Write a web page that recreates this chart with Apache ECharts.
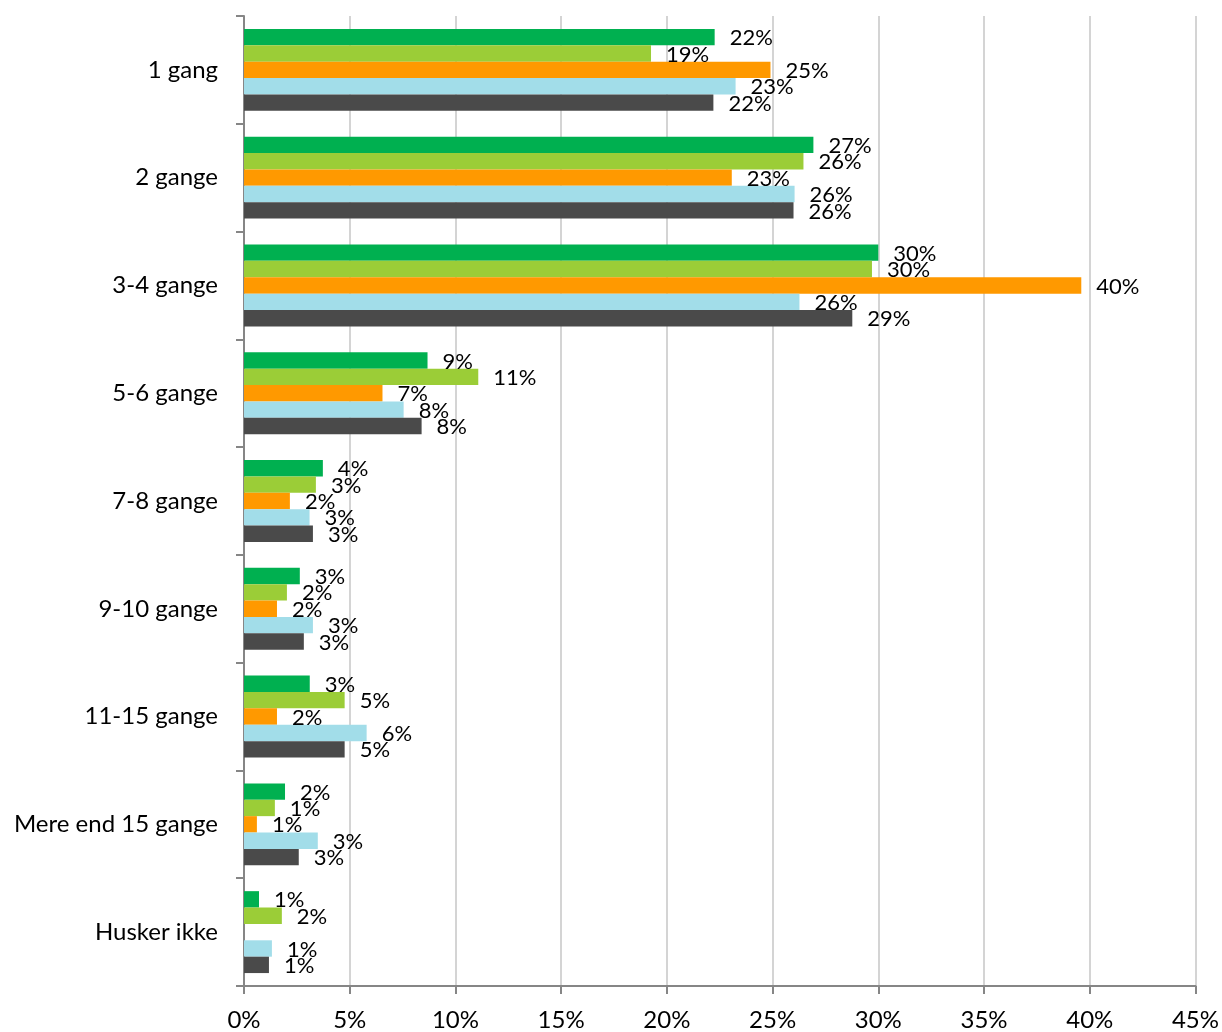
<!DOCTYPE html>
<html>
<head>
<meta charset="utf-8">
<script src="https://cdn.jsdelivr.net/npm/echarts@6/dist/echarts.min.js"></script>
<style>
  html, body { margin: 0; padding: 0; background: #fff; }
  #main { width: 1222px; height: 1032px; }
</style>
</head>
<body>
<div id="main"></div>
<script>
// kategorier (øverst til nederst)
const categories = ['1 gang', '2 gange', '3-4 gange', '5-6 gange', '7-8 gange', '9-10 gange', '11-15 gange', 'Mere end 15 gange', 'Husker ikke'];
const xTicks = [0, 5, 10, 15, 20, 25, 30, 35, 40, 45];

// værdier i procent
const serieA = [22.26, 26.93, 30.0, 8.68, 3.73, 2.64, 3.11, 1.94, 0.71];
const serieB = [19.25, 26.46, 29.7, 11.08, 3.4, 2.03, 4.76, 1.46, 1.79];
const serieC = [24.9, 23.07, 39.6, 6.55, 2.17, 1.56, 1.56, 0.61, null];
const serieD = [23.25, 26.04, 26.27, 7.55, 3.1, 3.26, 5.8, 3.49, 1.32];
const serieE = [22.2, 25.99, 28.77, 8.4, 3.26, 2.83, 4.76, 2.59, 1.18];

const colors = ['#00b050', '#9bcd37', '#ff9900', '#a2dde9', '#4a4a4a'];
const font = 'Lato, "Open Sans", sans-serif';

const chart = echarts.init(document.getElementById('main'));

function mkSeries(name, data, color) {
  return {
    name: name,
    type: 'bar',
    data: data,
    barGap: '0%',
    barCategoryGap: '24%',
    itemStyle: { color: color },
    label: {
      show: true,
      position: 'right',
      distance: 15,
      offset: [0, 1],
      color: '#000',
      fontFamily: font,
      fontSize: 22,
      formatter: p => (p.value == null ? '' : Math.round(p.value) + '%')
    },
    animation: false
  };
}

chart.setOption({
  backgroundColor: '#fff',
  grid: { left: 244, right: 25, top: 16, bottom: 42 },
  xAxis: {
    type: 'value',
    min: xTicks[0],
    max: xTicks[xTicks.length - 1],
    interval: 5,
    axisLine: { show: true, lineStyle: { color: '#868686', width: 2 } },
    axisTick: { show: true, length: 8, lineStyle: { color: '#868686', width: 2 } },
    splitLine: { show: true, lineStyle: { color: '#d4d4d4', width: 2 } },
    axisLabel: {
      formatter: '{value}%',
      color: '#000',
      fontFamily: font,
      fontSize: 24,
      margin: 22
    }
  },
  yAxis: {
    type: 'category',
    data: categories,
    inverse: true,
    axisLine: { show: true, lineStyle: { color: '#868686', width: 2 } },
    axisTick: { show: true, length: 8, alignWithLabel: false, lineStyle: { color: '#868686', width: 2 } },
    axisLabel: {
      color: '#000',
      fontFamily: font,
      fontSize: 24,
      margin: 26
    }
  },
  series: [
    mkSeries('A', serieA, colors[0]),
    mkSeries('B', serieB, colors[1]),
    mkSeries('C', serieC, colors[2]),
    mkSeries('D', serieD, colors[3]),
    mkSeries('E', serieE, colors[4])
  ]
});
</script>
</body>
</html>
